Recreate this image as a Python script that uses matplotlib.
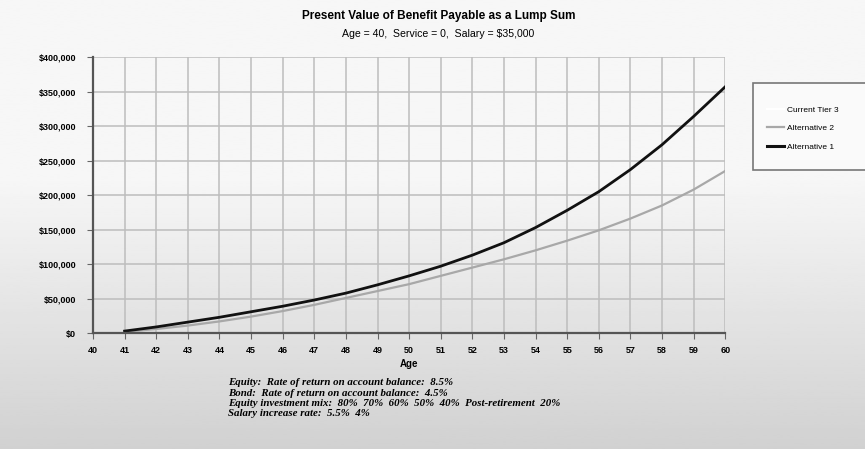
import numpy as np
import matplotlib.pyplot as plt
from matplotlib.lines import Line2D
from matplotlib.patches import Rectangle
from matplotlib.ticker import FuncFormatter

ages = list(range(41, 61))
alternative_1 = [3000, 9000, 16000, 23000, 31000, 39000, 48000, 58000, 70000, 83000,
                 97000, 113000, 131000, 153000, 178000, 205000, 237000, 273000, 314000, 357000]
alternative_2 = [2000, 6000, 11000, 17000, 24000, 32000, 41000, 51000, 61000, 71000,
                 83000, 95000, 107000, 120000, 134000, 149000, 166000, 185000, 208000, 235000]
series_names = ["Current Tier 3", "Alternative 2", "Alternative 1"]
notes = [
    "Equity:  Rate of return on account balance:  8.5%",
    "Bond:  Rate of return on account balance:  4.5%",
    "Equity investment mix:  80%  70%  60%  50%  40%  Post-retirement  20%",
    "Salary increase rate:  5.5%  4%",
]

plt.rcParams['font.family'] = ['Liberation Sans', 'DejaVu Sans']

fig = plt.figure(figsize=(8.65, 4.49), dpi=100)

# soft grey wash behind everything, lighter at the top
bg = fig.add_axes([0, 0, 1, 1], zorder=-10)
grad = np.concatenate([np.full(80, 0.965), np.linspace(0.965, 0.82, 120)]).reshape(-1, 1)
bg.imshow(grad, cmap='gray', vmin=0, vmax=1, aspect='auto', extent=[0, 1, 0, 1])
bg.axis('off')

ax = fig.add_axes([0.1075, 0.258, 0.731, 0.615])
ax.patch.set_alpha(0)

ax.plot(ages, alternative_2, color='#a8a8a8', lw=1.6, label=series_names[1])
ax.plot(ages, alternative_1, color='#111111', lw=2.0, label=series_names[2])

ax.set_xlim(40, 60)
ax.set_ylim(0, 400000)
ax.set_xticks(range(40, 61))
ax.set_yticks(range(0, 400001, 50000))
ax.yaxis.set_major_formatter(FuncFormatter(lambda v, p: f"${v:,.0f}"))
ax.tick_params(axis='y', labelsize=6.5, length=4, width=0.8, color='#666666', pad=8)
ax.tick_params(axis='x', labelsize=6.5, length=4, width=0.8, color='#666666', pad=5)
for lab in ax.get_xticklabels() + ax.get_yticklabels():
    lab.set_fontweight('bold')

ax.grid(True, color='#bdbdbd', lw=1.1)
ax.set_axisbelow(True)
for side in ['top', 'right']:
    ax.spines[side].set_visible(False)
for side in ['left', 'bottom']:
    ax.spines[side].set_color('#555555')
    ax.spines[side].set_linewidth(1.6)

ax.set_xlabel("Age", fontsize=7, fontweight='bold', labelpad=3)

fig.text(0.507, 0.964, "Present Value of Benefit Payable as a Lump Sum",
         ha='center', va='center', fontsize=8.5, fontweight='bold')
fig.text(0.507, 0.924, "Age = 40,  Service = 0,  Salary = $35,000",
         ha='center', va='center', fontsize=7.6)

# legend box runs off the right edge of the figure
fig.patches.append(Rectangle((753 / 865, 1 - 170 / 449), 0.2, 87 / 449,
                             transform=fig.transFigure, facecolor='#fafafa',
                             edgecolor='#777777', lw=1.2, zorder=1))
handles = [Line2D([], [], color='white', lw=1.6),
           Line2D([], [], color='#a8a8a8', lw=1.6),
           Line2D([], [], color='#111111', lw=2.2)]
fig.legend(handles, series_names, loc='upper left',
           bbox_to_anchor=(767 / 865, 1 - 106 / 449), fontsize=6, frameon=False,
           borderpad=0, borderaxespad=0, handlelength=2.0,
           handletextpad=0.4, labelspacing=1.28)

for i, line in enumerate(notes):
    fig.text(0.264, 0.147 - i * 0.0225, line, fontsize=7.8, fontweight='bold',
             fontstyle='italic', family=['Liberation Serif', 'DejaVu Serif'],
             va='center', ha='left')

fig.savefig("out.png", dpi=100)
